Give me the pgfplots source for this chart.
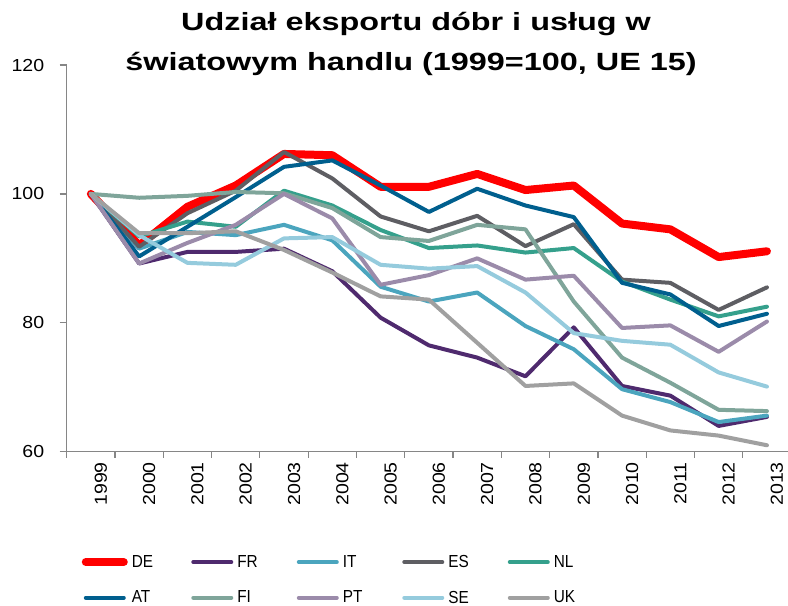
\documentclass[border=0pt]{standalone}
\usepackage{fontspec}
\setmainfont{Liberation Sans}
\newfontfamily\titlefont{Liberation Sans}[FakeStretch=1.3]
\newfontfamily\tickfont{Liberation Sans}[FakeStretch=1.12]
\newfontfamily\legfont{Liberation Sans}[FakeStretch=0.88]
\usepackage{pgfplots}
\pgfplotsset{compat=1.18}
\usepackage{pgfplotstable}

\definecolor{cDE}{HTML}{FF0000}
\definecolor{cFR}{HTML}{4F2A6E}
\definecolor{cIT}{HTML}{4BA5BE}
\definecolor{cES}{HTML}{5E5E63}
\definecolor{cNL}{HTML}{35A08C}
\definecolor{cAT}{HTML}{005F8E}
\definecolor{cFI}{HTML}{7FA59A}
\definecolor{cPT}{HTML}{9B8BAA}
\definecolor{cSE}{HTML}{95CBDD}
\definecolor{cUK}{HTML}{A0A0A0}
\definecolor{axgray}{HTML}{868686}

% 1999=100, index x: 0=1999 ... 14=2013
\pgfplotstableread{
x  DE    FR   IT   ES    NL    AT    FI    PT    SE   UK
0  100   100  100  100   100   100   100   100   100  100
1  92.0  89.2 91.5 91.8  93.4  90.3  99.4  89.2  93.6 93.9
2  98.0  91.0 94.1 97.0  95.7  94.9  99.7  92.4  89.3 93.9
3  101.3 91.0 93.6 100.5 94.9  99.5  100.3 95.2  89.0 94.2
4  106.2 91.5 95.2 106.5 100.5 104.2 100.1 100.0 93.1 91.3
5  106.0 88.0 92.8 102.4 98.2  105.2 97.8  96.2  93.3 87.8
6  101.1 80.8 85.6 96.5  94.4  101.3 93.3  85.9  89.0 84.1
7  101.1 76.5 83.3 94.2  91.6  97.2  92.7  87.4  88.4 83.6
8  103.1 74.6 84.7 96.6  92.0  100.8 95.2  90.0  88.8 76.9
9  100.6 71.7 79.5 91.9  90.9  98.2  94.5  86.7  84.7 70.2
10 101.3 79.3 75.9 95.3  91.6  96.4  83.3  87.3  78.4 70.6
11 95.4  70.2 69.7 86.7  86.4  86.2  74.6  79.2  77.2 65.6
12 94.5  68.7 67.7 86.2  83.6  84.4  70.7  79.6  76.6 63.3
13 90.2  64.0 64.6 82.0  81.0  79.5  66.5  75.5  72.3 62.5
14 91.1  65.4 65.6 85.5  82.5  81.4  66.3  80.2  70.1 61.0
}\exports

\begin{document}
\begin{tikzpicture}
\useasboundingbox (0,0) rectangle (788bp,-606bp);
\node[anchor=base, font=\titlefont\bfseries\fontsize{25}{28}\selectfont] at (416bp,-30.7bp) {Udział eksportu dóbr i usług w};
\node[anchor=base, font=\titlefont\bfseries\fontsize{25}{28}\selectfont] at (411bp,-70.5bp) {światowym handlu (1999=100, UE 15)};
\begin{axis}[
  at={(66.7bp,-451.7bp)}, anchor=south west,
  scale only axis, width=721bp, height=386.7bp,
  xmin=-0.5, xmax=14.43, ymin=60, ymax=120,
  separate axis lines,
  axis x line=bottom, axis y line=left,
  axis line style={-, draw=axgray, line width=1.2bp},
  every tick/.style={draw=axgray, line width=1.2bp},
  tick align=outside,
  major tick length=7bp, minor tick length=6bp,
  xtick={0,...,14},
  xticklabels={1999,2000,2001,2002,2003,2004,2005,2006,2007,2008,2009,2010,2011,2012,2013},
  major x tick style={draw=none},
  minor xtick={-0.5,0.5,...,13.5},
  ytick={60,80,100,120},
  xticklabel style={rotate=90, anchor=east, font=\tickfont\fontsize{17.5}{20}\selectfont, yshift=-10bp},
  yticklabel style={font=\tickfont\fontsize{17.5}{20}\selectfont, xshift=-12bp},
  /pgf/number format/assume math mode=true,
  legend columns=5,
  legend style={at={(0.0165,-0.262)}, anchor=north west, draw=none, fill=none,
    font=\legfont\fontsize{17.5}{19}\selectfont,
    /tikz/every even column/.style={column sep=0pt},
    /tikz/column sep=0pt, /tikz/row sep=22bp,
    nodes={inner sep=0pt, text width=59.5bp, align=left}},
  legend image code/.code={\draw[#1, line cap=round] (0bp,0bp) -- (38bp,0bp); \path (42bp,0bp);},
  every axis plot/.append style={line join=round, line cap=round, line width=4bp},
]
\addplot[cDE, line width=8bp] table[x=x, y=DE] {\exports};
\addlegendentry{DE}
\addplot[cFR] table[x=x, y=FR] {\exports};
\addlegendentry{FR}
\addplot[cIT] table[x=x, y=IT] {\exports};
\addlegendentry{IT}
\addplot[cES] table[x=x, y=ES] {\exports};
\addlegendentry{ES}
\addplot[cNL] table[x=x, y=NL] {\exports};
\addlegendentry{NL}
\addplot[cAT] table[x=x, y=AT] {\exports};
\addlegendentry{AT}
\addplot[cFI] table[x=x, y=FI] {\exports};
\addlegendentry{FI}
\addplot[cPT] table[x=x, y=PT] {\exports};
\addlegendentry{PT}
\addplot[cSE] table[x=x, y=SE] {\exports};
\addlegendentry{SE}
\addplot[cUK] table[x=x, y=UK] {\exports};
\addlegendentry{UK}
\end{axis}
\end{tikzpicture}
\end{document}
